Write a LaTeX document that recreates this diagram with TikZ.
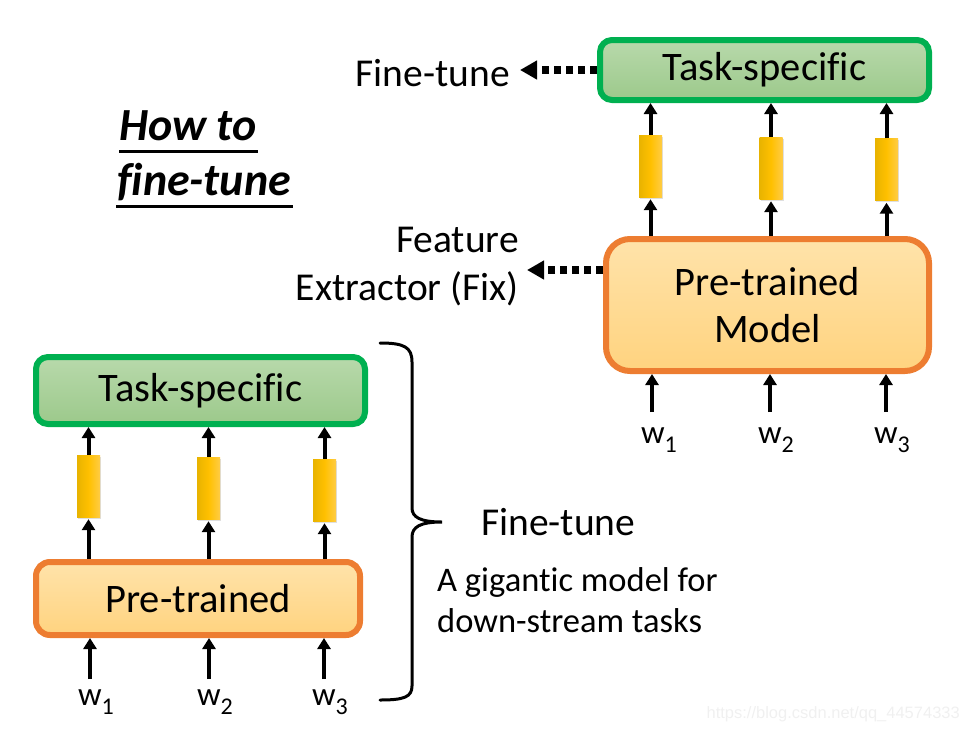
\documentclass[tikz,border=0pt]{standalone}
\usepackage{fontspec}
\setmainfont[Ligatures=CommonOff]{Carlito}
\newfontfamily\wmfont{Liberation Sans}
\usetikzlibrary{arrows.meta,shadows}
\definecolor{gborder}{HTML}{00B050}
\definecolor{gtop}{HTML}{B8D9AB}
\definecolor{gbot}{HTML}{9CC98B}
\definecolor{oborder}{HTML}{ED7D31}
\definecolor{otop}{HTML}{FFE3AA}
\definecolor{obot}{HTML}{FFD37F}
\definecolor{yleft}{HTML}{E8B300}
\definecolor{ymid}{HTML}{FFC000}
\definecolor{yright}{HTML}{FFCC45}
\newcommand{\wsub}[1]{w\raisebox{-0.28em}{\fontsize{24}{24}\selectfont #1}}
\begin{document}
\begin{tikzpicture}[x=1pt,y=-1pt,
  bigtext/.style={font=\fontsize{40.5}{47}\selectfont},
  taskbox/.style={draw=gborder, line width=6pt, rounded corners=12pt,
    top color=gtop, bottom color=gbot, bigtext, inner sep=0pt},
  prebox/.style={draw=oborder, line width=6pt, rounded corners=14pt,
    top color=otop, bottom color=obot, bigtext, inner sep=0pt, align=center},
  ybar/.style={minimum width=23pt, minimum height=62pt, inner sep=0pt,
    left color=yleft, right color=yright, middle color=ymid,
    drop shadow={shadow xshift=1.2pt, shadow yshift=-1.5pt, opacity=0.25}},
  arr/.style={line width=4pt, -{Triangle[width=13pt,length=11pt]}},
  dotarr/.style={line width=7.5pt, dash pattern=on 7pt off 5pt,
    -{Triangle[width=18pt,length=17pt]}},
  wlab/.style={font=\fontsize{33}{33}\selectfont, inner sep=0pt, anchor=base},
  lab/.style={font=\fontsize{39.5}{48}\selectfont, inner sep=0pt},
  titlef/.style={font=\fontsize{46}{55}\selectfont\bfseries\itshape, inner sep=0pt, anchor=base west},
]
\useasboundingbox (0,0) rectangle (971,734);

% ---------- top right ----------
\node[taskbox, minimum width=329pt, minimum height=60pt] (tsR) at (764.5,70) {Task-specific};
\node[prebox, rounded corners=24pt, minimum width=323pt, minimum height=132pt] (pmR) at (767.5,305) {Pre-trained\\Model};
\node[ybar] (bR1) at (650.5,166) {};
\node[ybar] (bR2) at (771,168) {};
\node[ybar] (bR3) at (886.5,169.5) {};
\foreach \i in {1,2,3}{
  \draw[arr] (bR\i.north) -- (bR\i.north |- tsR.south);
  \draw[arr, shorten >=2pt] (bR\i.south |- pmR.north) -- (bR\i.south);
}
\coordinate (iR1) at (652,412);
\coordinate (iR2) at (770,412);
\coordinate (iR3) at (886,412);
\foreach \i in {1,2,3}{
  \draw[arr] (iR\i) -- (iR\i |- pmR.south);
}
\node[wlab] (wR1) at (659,443) {\wsub{1}};
\node[wlab] (wR2) at (776,443) {\wsub{2}};
\node[wlab] (wR3) at (892,443) {\wsub{3}};

% dotted arrows and their labels
\node[lab, anchor=base east] (ftlab) at (510,86) {Fine-tune};
\draw[dotarr] (tsR.west) -- ([xshift=10pt]ftlab.east |- tsR.west);
\node[lab, anchor=east, align=right] (felab) at (519,267) {Feature\\Extractor (Fix)};
\coordinate (feend) at (527,270);
\draw[dotarr] (pmR.west |- feend) -- (feend);

% title
\node[titlef] (how) at (119,140) {How to};
\node[titlef] (fine) at (117,195) {fine-tune};
\draw[line width=3pt] ([yshift=-11pt]how.base west) -- ([yshift=-11pt,xshift=1pt]how.base east);
\draw[line width=3pt] ([yshift=-11pt,xshift=-1pt]fine.base west) -- ([yshift=-11pt,xshift=2pt]fine.base east);

% ---------- bottom left ----------
\node[taskbox, minimum width=329pt, minimum height=67pt] (tsL) at (200.5,390.5) {Task-specific};
\node[prebox, minimum width=324pt, minimum height=73pt] (pmL) at (198,598.5) {Pre-trained};
\node[ybar] (bL1) at (88.5,486) {};
\node[ybar] (bL2) at (208.5,488) {};
\node[ybar] (bL3) at (324.5,490) {};
\foreach \i in {1,2,3}{
  \draw[arr] (bL\i.north) -- (bL\i.north |- tsL.south);
  \draw[arr, shorten >=2pt] (bL\i.south |- pmL.north) -- (bL\i.south);
}
\coordinate (iL1) at (90,679);
\coordinate (iL2) at (209,679);
\coordinate (iL3) at (324,679);
\foreach \i in {1,2,3}{
  \draw[arr] (iL\i) -- (iL\i |- pmL.south);
}
\node[wlab] (wL1) at (96,705) {\wsub{1}};
\node[wlab] (wL2) at (215,705) {\wsub{2}};
\node[wlab] (wL3) at (330,705) {\wsub{3}};

% brace
\draw[line width=3pt, line cap=round] (380,343) .. controls (404,343) and (412,347) .. (412,362)
  -- (412,508) .. controls (412,517) and (420,522) .. (442,522)
  .. controls (420,522) and (412,527) .. (412,537)
  -- (412,686) .. controls (412,697) and (404,700) .. (380,700);

\node[lab, anchor=west] (ftr) at (481,522) {Fine-tune};
\node[font=\fontsize{34.5}{41}\selectfont, inner sep=0pt, anchor=north west, align=left] (giant) at (437,567) {A gigantic model for\\down-stream tasks};

% watermark
\node[font=\wmfont\fontsize{16.5}{16.5}\selectfont, text=black!6, inner sep=0pt, anchor=east] (wm) at (960,714) {https://blog.csdn.net/qq\_44574333};
\end{tikzpicture}
\end{document}
